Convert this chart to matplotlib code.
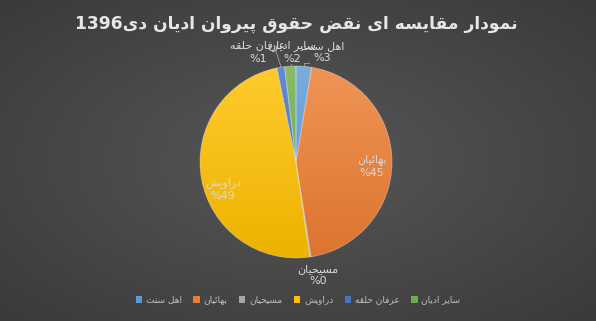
import numpy as np
import matplotlib
matplotlib.use("Agg")
import matplotlib.pyplot as plt
from matplotlib.colors import LinearSegmentedColormap, to_rgb
from matplotlib.patches import Patch

# ---------------- data ----------------
categories = ["اهل سنت", "بهائیان", "مسیحیان", "دراویش", "عرفان حلقه", "سایر ادیان"]
values = [2.6, 44.9, 0.2, 49.1, 1.3, 1.9]
colors = ["#5B9BD5", "#ED7D31", "#A5A5A5", "#FFC000", "#4472C4", "#70AD47"]
title = "نمودار مقایسه ای نقض حقوق پیروان ادیان دی1396"

# ---------------- simple Arabic/Persian shaping ----------------
def _q(b):
    return tuple(chr(b + i) for i in range(4))

def _p(b):
    return tuple(chr(b + i) for i in range(2))

FORMS = {
    '\u0627': _p(0xFE8D), '\u0622': _p(0xFE81), '\u0628': _q(0xFE8F), '\u067E': _q(0xFB56),
    '\u062A': _q(0xFE95), '\u062B': _q(0xFE99), '\u062C': _q(0xFE9D), '\u0686': _q(0xFB7A),
    '\u062D': _q(0xFEA1), '\u062E': _q(0xFEA5), '\u062F': _p(0xFEA9), '\u0630': _p(0xFEAB),
    '\u0631': _p(0xFEAD), '\u0632': _p(0xFEAF), '\u0698': _p(0xFB8A), '\u0633': _q(0xFEB1),
    '\u0634': _q(0xFEB5), '\u0635': _q(0xFEB9), '\u0636': _q(0xFEBD), '\u0637': _q(0xFEC1),
    '\u0638': _q(0xFEC5), '\u0639': _q(0xFEC9), '\u063A': _q(0xFECD), '\u0641': _q(0xFED1),
    '\u0642': _q(0xFED5), '\u06A9': _q(0xFB8E), '\u0643': _q(0xFED9), '\u06AF': _q(0xFB92),
    '\u0644': _q(0xFEDD), '\u0645': _q(0xFEE1), '\u0646': _q(0xFEE5), '\u0647': _q(0xFEE9),
    '\u0648': _p(0xFEED), '\u06CC': _q(0xFBFC), '\u064A': _q(0xFEF1), '\u0626': _q(0xFE89),
    '\u0629': _p(0xFE93),
}


def shape(s):
    out = []
    n = len(s)
    for i, c in enumerate(s):
        f = FORMS.get(c)
        if f is None:
            out.append(c)
            continue
        prev = s[i - 1] if i > 0 else ''
        nxt = s[i + 1] if i + 1 < n else ''
        pc = prev in FORMS and len(FORMS[prev]) == 4
        nc = len(f) == 4 and nxt in FORMS
        if pc and nc:
            out.append(f[3])
        elif pc:
            out.append(f[1])
        elif nc:
            out.append(f[2])
        else:
            out.append(f[0])
    return ''.join(out)


def vis(s):
    sh = shape(s)
    runs = []
    cur = ''
    cur_d = None
    for c in sh:
        d = c.isdigit()
        if cur_d is None or d == cur_d:
            cur += c
        else:
            runs.append((cur, cur_d))
            cur = c
        cur_d = d
    if cur:
        runs.append((cur, cur_d))
    parts = [r if d else r[::-1] for r, d in runs]
    return ''.join(parts[::-1])


FONT = ['DejaVu Sans']
plt.rcParams['font.family'] = FONT

W, H = 596, 321
fig = plt.figure(figsize=(W / 100, H / 100), dpi=100)

# background radial gradient
bg = fig.add_axes([0, 0, 1, 1], zorder=-10)
yy, xx = np.mgrid[0:1:200j, 0:1:300j]
rr = np.sqrt(((xx - 0.5) / 0.5) ** 2 + ((yy - 0.5) / 0.5) ** 2) / np.sqrt(2)
bgc = LinearSegmentedColormap.from_list('bg', ['#575757', '#3a3a3a'])
bg.imshow(rr, cmap=bgc, extent=(0, 1, 0, 1), aspect='auto', origin='lower', vmin=0, vmax=1)
bg.axis('off')

# pie axes: center (296,162) px, radius 96 px
cx, cy, R = 296, 162, 96
ax = fig.add_axes([(cx - R) / W, (H - cy - R) / H, 2 * R / W, 2 * R / H])
wedges, _ = ax.pie(values, colors=colors, startangle=90, counterclock=False,
                   wedgeprops=dict(linewidth=0.6, edgecolor=(1, 1, 1, 0.35)))
ax.set_xlim(-1, 1)
ax.set_ylim(-1, 1)
ax.axis('off')


def mix(c, t, amt):
    a = np.array(to_rgb(c))
    b = np.array(to_rgb(t))
    return tuple(a + (b - a) * amt)


grad = np.linspace(0, 1, 256).reshape(-1, 1)
for w, c in zip(wedges, colors):
    cm = LinearSegmentedColormap.from_list('g', [mix(c, 'black', 0.07), mix(c, 'white', 0.18)])
    im = ax.imshow(grad, cmap=cm, extent=(-1, 1, -1, 1), origin='lower', aspect='auto',
                   zorder=w.get_zorder() - 0.01 + 0.5)
    im.set_clip_path(w)
    w.set_facecolor('none')
    w.set_zorder(w.get_zorder() + 1)
ax.set_xlim(-1, 1)
ax.set_ylim(-1, 1)

# data labels (pixel positions of label centres)
label_px = [(322, 52), (372, 166), (318, 275), (223, 189), (258, 52), (292, 52)]
txtc = '#d9d9d9'
for cat, v, (px, py) in zip(categories, values, label_px):
    x = (px - cx) / R
    y = (cy - py) / R
    ax.text(x, y, vis(cat) + "\n%" + f"{v:.0f}", ha='center', va='center', color=txtc,
            fontsize=8, linespacing=1.3, zorder=10)

# leader lines (pixel coords -> data)
def P(px, py):
    return ((px - cx) / R, (cy - py) / R)

for pts in [[(276, 51), (281, 67)], [(304, 63), (309, 63)], [(304, 63), (304, 67)], [(291, 64), (291, 67)]]:
    xs, ys = zip(*[P(*p) for p in pts])
    ax.plot(xs, ys, color='#a6a6a6', lw=0.6, clip_on=False, zorder=9)

fig.text(0.497, 1 - 24 / H, vis(title), ha='center', va='center', color='#e6e6e6',
         fontsize=12.3, fontweight='bold')

handles = [Patch(facecolor=c, edgecolor='none') for c in colors]
fig.legend(handles, [vis(c) for c in categories], loc='center', bbox_to_anchor=(0.5, 1 - 300 / H),
           ncol=6, frameon=False, fontsize=6.5, labelcolor='#bfbfbf', handlelength=0.7,
           handleheight=0.7, columnspacing=1.3, handletextpad=0.4)

fig.savefig('out.png', dpi=100)
